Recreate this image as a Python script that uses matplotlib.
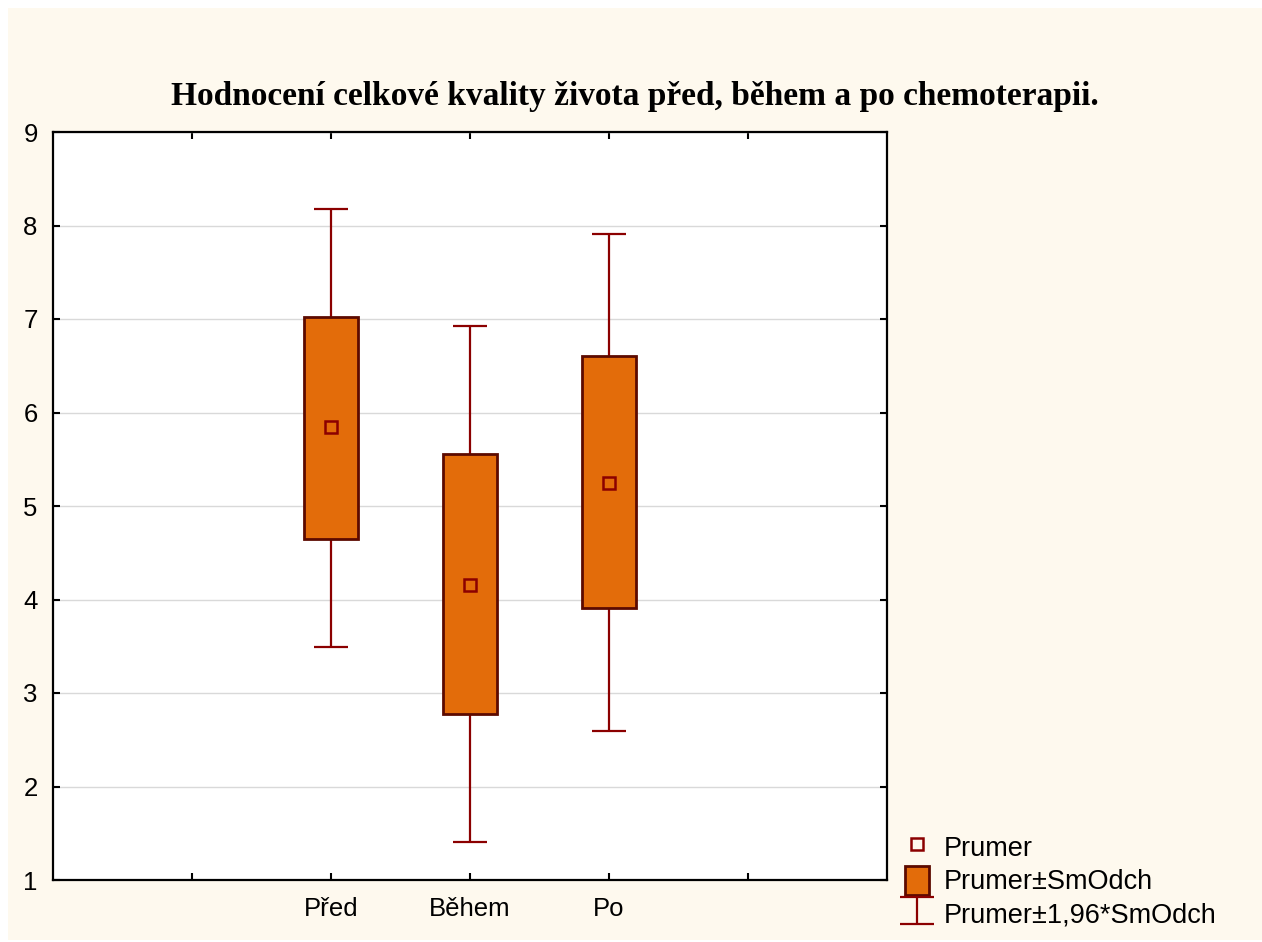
import matplotlib
matplotlib.use("Agg")
import matplotlib.pyplot as plt
from matplotlib.lines import Line2D
from matplotlib.patches import Patch, Rectangle

# Data
groups = ["Před", "Během", "Po"]
means = [5.85, 4.16, 5.25]
sd_low = [4.65, 2.78, 3.91]
sd_high = [7.02, 5.56, 6.60]
ci_low = [3.49, 1.41, 2.59]
ci_high = [8.18, 6.92, 7.91]
positions = [2, 3, 4]

box_color = "#E36C0A"
edge_color = "#5C0A00"
red = "#8B0000"

plt.rcParams["font.family"] = ["Liberation Sans", "DejaVu Sans"]

fig = plt.figure(figsize=(12.62, 9.42), dpi=100)
fig.patch.set_facecolor("white")
fig.patches.append(Rectangle((8 / 1262, 2 / 942), 1 - 8 / 1262, 1 - 10 / 942,
                             transform=fig.transFigure, facecolor="#FEF9EE",
                             edgecolor="none", zorder=-10))

ax = fig.add_axes([53 / 1262, 62 / 942, 834 / 1262, 748 / 942])
ax.set_facecolor("white")

# whiskers (mean +- 1.96*sd)
err_lo = [m - lo for m, lo in zip(means, ci_low)]
err_hi = [hi - m for m, hi in zip(means, ci_high)]
eb = ax.errorbar(positions, means, yerr=[err_lo, err_hi], fmt="none",
                 ecolor=red, elinewidth=1.6, capsize=12, capthick=1.6, zorder=2)

# boxes (mean +- sd)
heights = [h - l for h, l in zip(sd_high, sd_low)]
ax.bar(positions, heights, bottom=sd_low, width=0.39, color=box_color,
       edgecolor=edge_color, linewidth=2, zorder=3)

# means
ax.plot(positions, means, ls="none", marker="s", markersize=8.5,
        markerfacecolor="none", markeredgecolor=red, markeredgewidth=1.8,
        zorder=4)

ax.set_xlim(0, 6)
ax.set_ylim(1, 9)
ax.set_yticks(range(1, 10))
ax.set_xticks([1, 2, 3, 4, 5])
ax.set_xticklabels(["", "Před", "Během", "Po", ""])
ax.grid(axis="y", color="#D9D9D9", linewidth=1)
ax.set_axisbelow(True)
ax.tick_params(direction="in", length=5, width=1.5, top=True, right=True,
               labelsize=18.5, colors="black")
ax.tick_params(axis="x", pad=12)
ax.tick_params(axis="y", pad=11)
for s in ax.spines.values():
    s.set_linewidth(1.6)
    s.set_color("black")

fig.text(0.503, 0.898,
         "Hodnocení celkové kvality života před, během a po chemoterapii.",
         ha="center", va="center", fontsize=24, fontweight="bold",
         family=["Liberation Serif", "DejaVu Serif"])

handles = [
    Line2D([], [], ls="none", marker="s", markersize=8.5, markerfacecolor="none",
           markeredgecolor=red, markeredgewidth=1.8),
    Patch(facecolor=box_color, edgecolor=edge_color, linewidth=2),
    eb,
]
labels = ["Prumer", "Prumer±SmOdch", "Prumer±1,96*SmOdch"]
ax.legend(handles, labels, loc="lower left",
          bbox_to_anchor=(891 / 1262, 0), bbox_transform=fig.transFigure,
          frameon=False, fontsize=19.5, handlelength=0.9, handleheight=1.3,
          handletextpad=0.55, labelspacing=0.12, borderpad=0)

fig.savefig("out.png", dpi=100, facecolor=fig.get_facecolor())
